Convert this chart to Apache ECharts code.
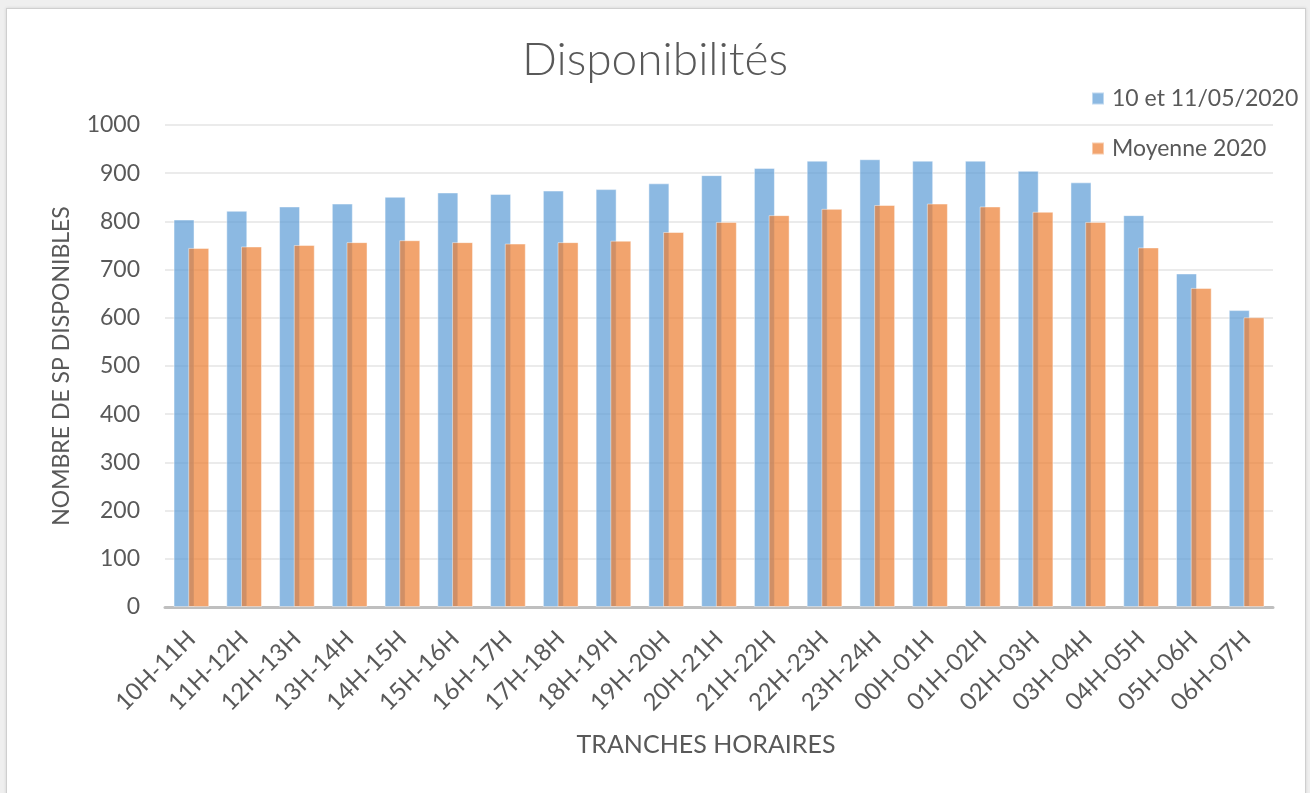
<!DOCTYPE html>
<html>
<head>
<meta charset="utf-8">
<script src="https://cdn.jsdelivr.net/npm/echarts@6/dist/echarts.min.js"></script>
<style>
  html, body { margin: 0; padding: 0; width: 1310px; height: 793px; overflow: hidden; background: #EFEFEF; }
  #frame { position: absolute; left: 6px; top: 8px; width: 1298px; height: 800px; background: #FFFFFF;
           border: 1px solid #CFCFCF; box-shadow: 0 0 3px rgba(0,0,0,0.12); }
  #chart { position: absolute; left: 0; top: 0; width: 1310px; height: 793px; }
</style>
</head>
<body>
<div id="frame"></div>
<div id="chart"></div>
<script>
const categories = ['10H-11H','11H-12H','12H-13H','13H-14H','14H-15H','15H-16H','16H-17H','17H-18H','18H-19H','19H-20H','20H-21H','21H-22H','22H-23H','23H-24H','00H-01H','01H-02H','02H-03H','03H-04H','04H-05H','05H-06H','06H-07H'];
const seriesNames = ['10 et 11/05/2020', 'Moyenne 2020'];
const dispo2020_05_10 = [804, 822, 831, 837, 851, 860, 857, 864, 867, 879, 896, 911, 926, 929, 926, 926, 905, 881, 813, 692, 616];
const moyenne2020 = [745, 748, 751, 757, 761, 757, 754, 757, 760, 778, 799, 813, 826, 834, 837, 831, 820, 799, 746, 662, 601];
const yTicks = { min: 0, max: 1000, interval: 100 };

const FONT = 'Lato, "Open Sans", sans-serif';
const TXT = '#595959';

const chart = echarts.init(document.getElementById('chart'), null, { renderer: 'canvas' });
chart.setOption({
  backgroundColor: 'transparent',
  animation: false,
  title: {
    text: 'Disponibilités',
    left: 'center', top: 32,
    textStyle: { fontFamily: FONT, fontSize: 46, fontWeight: 300, color: TXT }
  },
  legend: {
    orient: 'vertical',
    left: 1086, top: 82,
    itemWidth: 12, itemHeight: 12, itemGap: 27,
    icon: 'rect',
    textStyle: { fontFamily: FONT, fontSize: 23, color: TXT, padding: [0, 0, 0, 3] },
    data: seriesNames
  },
  grid: { left: 165, right: 37, top: 125, bottom: 186 },
  xAxis: {
    type: 'category',
    data: categories,
    name: 'TRANCHES HORAIRES',
    nameLocation: 'middle',
    nameGap: 125,
    nameTextStyle: { fontFamily: FONT, fontSize: 25, color: TXT, padding: [0, 26, 0, 0] },
    axisLine: { lineStyle: { color: '#BFBFBF', width: 3 } },
    axisTick: { show: false },
    axisLabel: { rotate: 45, margin: 28, fontFamily: FONT, fontSize: 24, color: TXT, interval: 0 }
  },
  yAxis: {
    type: 'value',
    min: yTicks.min, max: yTicks.max, interval: yTicks.interval,
    name: 'NOMBRE DE SP DISPONIBLES',
    nameLocation: 'middle',
    nameRotate: 90,
    nameGap: 92,
    nameTextStyle: { fontFamily: FONT, fontSize: 23, color: TXT },
    axisLine: { show: false },
    axisTick: { show: false },
    axisLabel: { margin: 25, fontFamily: FONT, fontSize: 23, color: TXT, formatter: function (v) { return String(v); } },
    splitLine: { lineStyle: { color: '#EBEBEB', width: 2 } }
  },
  series: [
    {
      name: seriesNames[0], type: 'bar', data: dispo2020_05_10,
      barWidth: 21, barGap: '-30%',
      itemStyle: { color: 'rgba(91,155,213,0.7)', borderColor: 'rgba(255,255,255,0.45)', borderWidth: 1 }
    },
    {
      name: seriesNames[1], type: 'bar', data: moyenne2020,
      barWidth: 21, barGap: '-30%',
      itemStyle: { color: 'rgba(237,125,49,0.7)', borderColor: 'rgba(255,255,255,0.45)', borderWidth: 1 }
    }
  ]
});
</script>
</body>
</html>
